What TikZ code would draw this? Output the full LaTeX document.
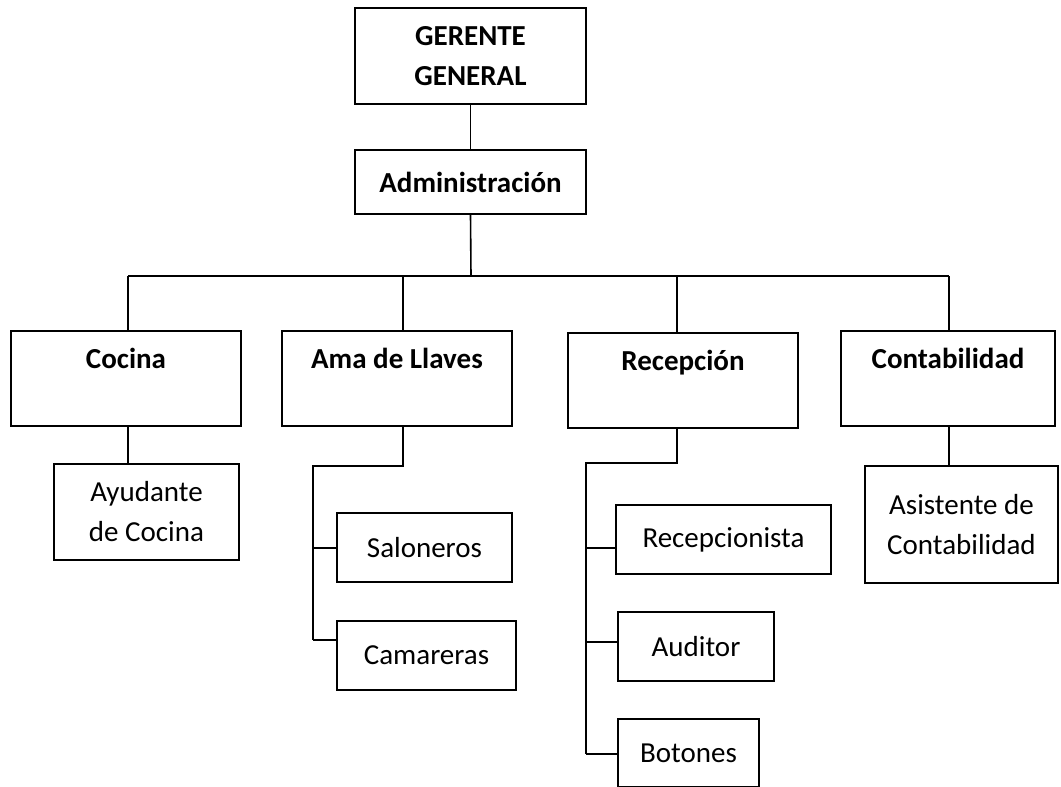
\documentclass[tikz,border=0pt]{standalone}
\usepackage{fontspec}
\setmainfont{Carlito}
\newcommand\obox[7]{\node[#1, minimum width={#4-#2}, minimum height={#5-#3}] (#6) at ({(#2+#4)/2},{(#3+#5)/2}) {#7};}
\begin{document}
\begin{tikzpicture}[x=1pt,y=-1pt,
  conn/.style={line width=1.6pt},
  box/.style={draw, line width=1.6pt, rectangle, inner sep=0pt, align=center, font=\fontsize{29}{40}\selectfont},
  hd/.style={box, font=\fontsize{29}{40}\selectfont\bfseries}]
\useasboundingbox (0,0) rectangle (1061,787);
% top level
\obox{hd}{355}{8}{586}{104}{gg}{GERENTE\\GENERAL}
\obox{hd}{355}{150}{586}{214}{adm}{Administración}
% departments
\obox{hd}{11}{331}{241}{426}{coc}{Cocina\\\mbox{}}
\obox{hd}{282}{331}{512}{426}{ama}{Ama de Llaves\\\mbox{}}
\obox{hd}{568}{333}{798}{428}{rec}{Recepción\\\mbox{}}
\obox{hd}{841}{331}{1055}{426}{con}{Contabilidad\\\mbox{}}
% staff
\obox{box}{54}{464}{239}{560}{ayu}{Ayudante\\de Cocina}
\obox{box}{337}{513}{512}{582}{sal}{Saloneros}
\obox{box}{337}{621}{516}{690}{cam}{Camareras}
\obox{box}{616}{505}{831}{574}{rcp}{Recepcionista}
\obox{box}{618}{612}{774}{681}{aud}{Auditor}
\obox{box}{618}{719}{759}{787}{bot}{Botones}
\obox{box}{865}{466}{1058}{583}{asi}{Asistente de\\Contabilidad}
% bus coordinates
\coordinate (bus) at (471,276);
\coordinate (b1) at (128,276);
\coordinate (b2) at (403,276);
\coordinate (b3) at (677,276);
\coordinate (b4) at (949,276);
\coordinate (a1) at (403,466);
\coordinate (a2) at (313,466);
\coordinate (a3) at (313,548);
\coordinate (a4) at (313,640);
\coordinate (r1) at (677,463);
\coordinate (r2) at (586,463);
\coordinate (r3) at (586,548);
\coordinate (r4) at (586,642);
\coordinate (r5) at (586,754);
% connectors
\draw[conn] (gg) -- (adm);
\draw[conn] (adm.south) -- (bus);
\draw[conn] (b1) -- (b4);
\draw[conn] (b1) -- (b1 |- coc.north);
\draw[conn] (b2) -- (b2 |- ama.north);
\draw[conn] (b3) -- (b3 |- rec.north);
\draw[conn] (b4) -- (b4 |- con.north);
\draw[conn] (b1 |- coc.south) -- (b1 |- ayu.north);
\draw[conn] (b4 |- con.south) -- (b4 |- asi.north);
\draw[conn] (a1 |- ama.south) -- (a1) -- (a2) -- (a4);
\draw[conn] (a3) -- (a3 -| sal.west);
\draw[conn] (a4) -- (a4 -| cam.west);
\draw[conn] (r1 |- rec.south) -- (r1) -- (r2) -- (r5);
\draw[conn] (r3) -- (r3 -| rcp.west);
\draw[conn] (r4) -- (r4 -| aud.west);
\draw[conn] (r5) -- (r5 -| bot.west);
\end{tikzpicture}
\end{document}
